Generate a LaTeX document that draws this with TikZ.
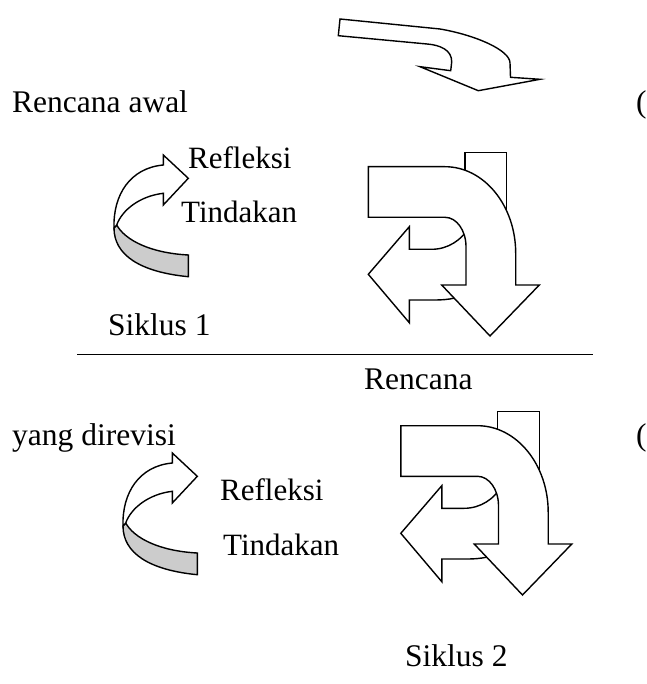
\documentclass[tikz,border=0pt]{standalone}
\usepackage{fontspec}
\setmainfont{Liberation Serif}
\begin{document}
\begin{tikzpicture}[x=1pt,y=-1pt, line join=miter,
  shp/.style={draw=black, fill=white, line width=1.4pt},
  bnd/.style={draw=black, fill=gray!40, line width=1.4pt},
  lbl/.style={anchor=base west, inner sep=0pt, font=\fontsize{31.5}{36}\selectfont},
  lblbig/.style={anchor=base west, inner sep=0pt, font=\fontsize{31}{36}\selectfont},
  bigarrows/.pic={
    % tall rectangle behind
    \path[shp] (465,152.3) rectangle (506.7,225);
    % left arrow behind
    \path[shp] (368.3,274.3) -- (409.3,226.7) -- (409.3,249.3) -- (431.7,249.3)
      .. controls (448,249.3) and (462,240) .. (470,226) -- (472,292)
      .. controls (460,298) and (448,300) .. (435,300) -- (409.3,300) -- (409.3,322.7) -- cycle;
    % big curved down arrow in front
    \path[shp] (368.3,166.7) -- (445,166.7)
      .. controls (484,166.7) and (515.7,205.5) .. (515.7,253.3)
      -- (515.7,285) -- (539.3,285) -- (490,336) -- (441.7,285) -- (466,285) -- (466,246.7)
      .. controls (466,230.5) and (456.6,217.3) .. (445,217.3) -- (368.3,217.3) -- cycle;
  },
  curlarrow/.pic={
    \path[bnd] (116.7,225) .. controls (125,240) and (150,253) .. (188.3,255)
      -- (188.3,276.7) .. controls (140,272) and (114,255) .. (114,228) -- cycle;
    \path[shp] (163.3,165) -- (163.3,155) -- (188.3,178.3) -- (163.3,205) -- (163.3,193.3)
      .. controls (140,196) and (122,210) .. (116.7,225) -- (114,228)
      .. controls (113,195) and (130,168) .. (163.3,165) -- cycle;
  }]
\useasboundingbox (0,0) rectangle (646,684);

% top arrow
\path[shp] (340,19) -- (440,29) .. controls (475,35) and (510,50) .. (510,63)
  -- (510.5,77.3) -- (540,79.3) -- (478.3,90.7) -- (420,66.7) -- (450.7,70.7) -- (451.7,62)
  .. controls (452,50) and (440,45) .. (427,44) -- (338.3,35.7) -- cycle;

% cycle 1
\pic at (0,0) {curlarrow};
\pic at (0,0) {bigarrows};
% cycle 2
\pic at (9,298) {curlarrow};
\pic at (32.5,259) {bigarrows};

% separator line
\coordinate (la) at (77,354.3);
\coordinate (lb) at (592.5,354.3);
\draw[line width=1.4pt] (la) -- (lb);

% texts
\node[lbl] (rawal) at (12,113) {Rencana awal};
\node[lbl] (par1) at (636,113) {(};
\node[lblbig] (ref1) at (188,169) {Refleksi};
\node[lblbig] (tin1) at (181,223) {Tindakan};
\node[lbl] (sik1) at (108,335) {Siklus 1};
\node[lbl] (ren) at (364,389) {Rencana};
\node[lbl] (yang) at (12,445) {yang direvisi};
\node[lbl] (par2) at (636,445) {(};
\node[lblbig] (ref2) at (220,500) {Refleksi};
\node[lblbig] (tin2) at (223,555) {Tindakan};
\node[lbl] (sik2) at (405,666) {Siklus 2};
\end{tikzpicture}
\end{document}
